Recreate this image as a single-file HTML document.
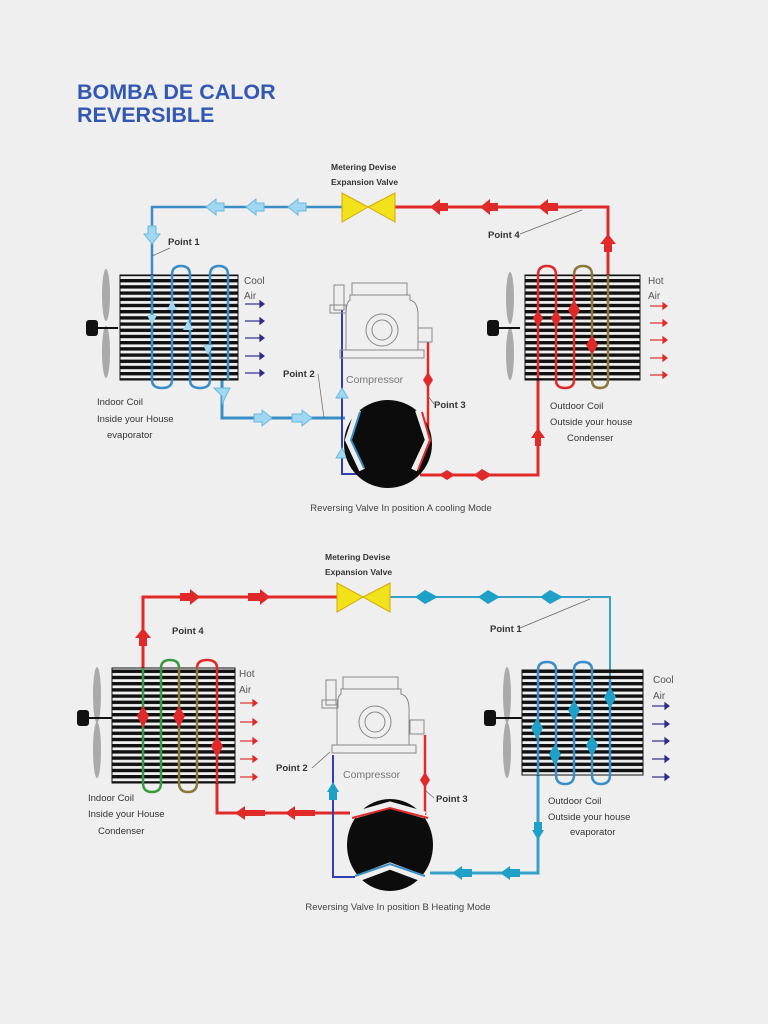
<!DOCTYPE html>
<html><head><meta charset="utf-8"><style>
html,body{margin:0;padding:0;background:#efefef;}
svg{display:block}
text{font-family:"Liberation Sans",sans-serif;}
</style></head><body>
<svg width="768" height="1024" viewBox="0 0 768 1024" xmlns="http://www.w3.org/2000/svg">
<defs>
<pattern id="fins" width="10" height="6.2" patternUnits="userSpaceOnUse">
<rect width="10" height="3.4" fill="#111"/>
</pattern>
</defs>
<rect width="768" height="1024" fill="#efefef"/>
<text x="77" y="99" font-size="21.5" font-weight="bold" fill="#3358b4">BOMBA DE CALOR</text>
<text x="77" y="122" font-size="21.5" font-weight="bold" fill="#3358b4">REVERSIBLE</text>

<!-- ================= TOP (cooling) ================= -->
<g font-size="10" fill="#333">
<text x="331" y="170" font-weight="bold" font-size="8.5">Metering Devise</text>
<text x="331" y="185" font-weight="bold" font-size="8.5">Expansion Valve</text>
</g>
<polyline points="342,207 152,207 152,380" fill="none" stroke="#3a8ec8" stroke-width="2.5"/>
<polyline points="395,207 608,207 608,275" fill="none" stroke="#e02a2a" stroke-width="3"/>
<polyline points="222,380 222,418 345,418" fill="none" stroke="#3a8ec8" stroke-width="3"/>
<polyline points="342,310 342,474 360,474" fill="none" stroke="#3040b0" stroke-width="2"/>
<polyline points="428,342 428,440" fill="none" stroke="#e02a2a" stroke-width="2.5"/>
<polyline points="420,475 538,475 538,378" fill="none" stroke="#e02a2a" stroke-width="3"/>
<polygon points="342,193 368,207 342,222" fill="#f2e21c" stroke="#d6a800"/>
<polygon points="395,193 368,207 395,222" fill="#f2e21c" stroke="#d6a800"/>
<g fill="#9fd8f0" stroke="#6ab8e0">
<polygon points="206,207 216,199 216,203 224,203 224,211 216,211 216,215"/>
<polygon points="246,207 256,199 256,203 264,203 264,211 256,211 256,215"/>
<polygon points="288,207 298,199 298,203 306,203 306,211 298,211 298,215"/>
<polygon points="152,244 144,234 148,234 148,226 156,226 156,234 160,234"/>
<polygon points="272,418 262,410 262,414 254,414 254,422 262,422 262,426"/>
<polygon points="312,418 302,410 302,414 292,414 292,422 302,422 302,426"/>
<polygon points="222,396 214,388 230,388 222,404"/>
<polygon points="342,388 336,398 348,398"/>
<polygon points="342,448 336,458 348,458"/>
</g>
<g fill="#e02a2a">
<polygon points="430,207 440,199 440,203 448,203 448,211 440,211 440,215"/>
<polygon points="480,207 490,199 490,203 498,203 498,211 490,211 490,215"/>
<polygon points="538,207 548,199 548,203 558,203 558,211 548,211 548,215"/>
<polygon points="608,234 600,244 604,244 604,252 612,252 612,244 616,244"/>
<polygon points="538,428 531,438 535,438 535,446 541,446 541,438 545,438"/>
<polygon points="428,372 423,380 428,388 433,380"/>
<polygon points="455,475 447,470 439,475 447,480"/>
<polygon points="492,475 482,469 474,475 482,481"/>
</g>
<rect x="120" y="275" width="118" height="105" fill="url(#fins)"/>
<rect x="120" y="275" width="118" height="105" fill="none" stroke="#111" stroke-width="1"/>
<g fill="none" stroke="#3a8ec8" stroke-width="2.5">
<path d="M152,275 V380 Q152,388 162,388 Q172,388 172,380 V275 Q172,266 181,266 Q190,266 190,275 V380 Q190,388 200,388 Q210,388 210,380 V275 Q210,266 219,266 Q228,266 228,275 V380"/>
</g>
<g fill="#9fd8f0"><polygon points="172,300 167,310 177,310"/><polygon points="152,325 147,315 157,315"/><polygon points="188,320 183,330 193,330"/><polygon points="208,355 203,345 213,345"/></g>
<ellipse cx="106" cy="295" rx="4" ry="26" fill="#aaa"/>
<ellipse cx="106" cy="352" rx="4" ry="26" fill="#aaa"/>
<rect x="86" y="320" width="12" height="16" rx="3" fill="#111"/>
<line x1="98" y1="328" x2="118" y2="328" stroke="#111" stroke-width="2"/>
<text x="244" y="284" font-size="10" fill="#555">Cool</text>
<text x="244" y="299" font-size="10" fill="#555">Air</text>
<g stroke="#2c2c8c" stroke-width="1.2" fill="#2c2c8c">
<line x1="245" y1="304" x2="260" y2="304"/><polygon points="260,301 264,304 260,307"/>
<line x1="245" y1="321" x2="260" y2="321"/><polygon points="260,318 264,321 260,324"/>
<line x1="245" y1="338" x2="260" y2="338"/><polygon points="260,335 264,338 260,341"/>
<line x1="245" y1="356" x2="260" y2="356"/><polygon points="260,353 264,356 260,359"/>
<line x1="245" y1="373" x2="260" y2="373"/><polygon points="260,370 264,373 260,376"/>
</g>
<rect x="525" y="275" width="115" height="105" fill="url(#fins)"/>
<rect x="525" y="275" width="115" height="105" fill="none" stroke="#111" stroke-width="1"/>
<g fill="none" stroke-width="2.5">
<path d="M538,378 V275 Q538,266 547,266 Q556,266 556,275 V380 Q556,388 565,388 Q574,388 574,380 V275" stroke="#e02a2a"/>
<path d="M574,275 Q574,266 583,266 Q592,266 592,275 V380 Q592,388 600,388 Q608,388 608,380 V275" stroke="#8a7a3a"/>
</g>
<g fill="#e02a2a"><polygon points="538,310 533,318 538,328 543,318"/><polygon points="556,310 551,318 556,328 561,318"/><polygon points="574,300 568,310 574,320 580,310"/><polygon points="592,335 586,345 592,355 598,345"/></g>
<ellipse cx="510" cy="298" rx="4" ry="26" fill="#aaa"/>
<ellipse cx="510" cy="354" rx="4" ry="26" fill="#aaa"/>
<rect x="487" y="320" width="12" height="16" rx="3" fill="#111"/>
<line x1="499" y1="328" x2="520" y2="328" stroke="#111" stroke-width="2"/>
<text x="648" y="284" font-size="10" fill="#555">Hot</text>
<text x="648" y="299" font-size="10" fill="#555">Air</text>
<g stroke="#e02a2a" stroke-width="1.2" fill="#e02a2a">
<line x1="650" y1="306" x2="663" y2="306"/><polygon points="663,303 667,306 663,309"/>
<line x1="650" y1="323" x2="663" y2="323"/><polygon points="663,320 667,323 663,326"/>
<line x1="650" y1="340" x2="663" y2="340"/><polygon points="663,337 667,340 663,343"/>
<line x1="650" y1="358" x2="663" y2="358"/><polygon points="663,355 667,358 663,361"/>
<line x1="650" y1="375" x2="663" y2="375"/><polygon points="663,372 667,375 663,378"/>
</g>
<g fill="none" stroke="#888" stroke-width="1">
<rect x="352" y="283" width="55" height="12"/>
<path d="M350,295 H410 V300 Q418,302 418,315 V350 H346 V315 Q346,302 350,300 Z"/>
<circle cx="382" cy="330" r="16"/><circle cx="382" cy="330" r="10"/>
<rect x="340" y="350" width="84" height="8"/>
<rect x="418" y="328" width="14" height="14"/>
<rect x="334" y="285" width="10" height="25"/>
<rect x="330" y="305" width="16" height="8"/>
</g>
<circle cx="388" cy="444" r="44" fill="#0c0c0c"/>
<path d="M358,410 L348,440 L362,470" fill="none" stroke="#eee" stroke-width="6"/>
<path d="M360,412 L351,440 L364,468" fill="none" stroke="#3a8ec8" stroke-width="2"/>
<path d="M418,410 L428,440 L414,470" fill="none" stroke="#eee" stroke-width="6"/>
<path d="M422,412 L430,440 L418,470" fill="none" stroke="#e02a2a" stroke-width="2"/>
<g font-size="9.5" fill="#333" font-weight="bold">
<text x="168" y="245">Point 1</text>
<text x="488" y="238">Point 4</text>
<text x="283" y="377">Point 2</text>
<text x="434" y="408">Point 3</text>
</g>
<g stroke="#666" stroke-width="0.7"><line x1="152" y1="256" x2="170" y2="248"/><line x1="520" y1="234" x2="582" y2="210"/><line x1="318" y1="374" x2="324" y2="418"/><line x1="428" y1="396" x2="434" y2="404"/></g>
<text x="346" y="383" font-size="10.5" fill="#777">Compressor</text>
<g font-size="9.5" fill="#333">
<text x="97" y="405">Indoor Coil</text>
<text x="97" y="422">Inside your House</text>
<text x="107" y="438">evaporator</text>
<text x="550" y="409">Outdoor Coil</text>
<text x="550" y="425">Outside your house</text>
<text x="567" y="441">Condenser</text>
</g>
<text x="401" y="511" font-size="9.5" fill="#444" text-anchor="middle">Reversing Valve In position A cooling Mode</text>

<!-- ================= BOTTOM (heating) ================= -->
<text x="325" y="560" font-weight="bold" font-size="8.5" fill="#333">Metering Devise</text>
<text x="325" y="575" font-weight="bold" font-size="8.5" fill="#333">Expansion Valve</text>
<polyline points="337,597 143,597 143,668" fill="none" stroke="#e02a2a" stroke-width="3"/>
<polyline points="390,597 610,597 610,680" fill="none" stroke="#3aa0c8" stroke-width="2"/>
<polyline points="217,783 217,813 350,813" fill="none" stroke="#e02a2a" stroke-width="3"/>
<polyline points="538,775 538,873 430,873" fill="none" stroke="#3aa0c8" stroke-width="3"/>
<polyline points="333,755 333,877 355,877" fill="none" stroke="#3040b0" stroke-width="2"/>
<polyline points="425,735 425,815" fill="none" stroke="#e02a2a" stroke-width="2.5"/>
<polygon points="337,583 363,597 337,612" fill="#f2e21c" stroke="#d6a800"/>
<polygon points="390,583 363,597 390,612" fill="#f2e21c" stroke="#d6a800"/>
<g fill="#e02a2a">
<polygon points="200,597 190,589 190,593 180,593 180,601 190,601 190,605"/>
<polygon points="270,597 260,589 260,593 248,593 248,601 260,601 260,605"/>
<polygon points="143,628 135,638 139,638 139,646 147,646 147,638 151,638"/>
<polygon points="235,813 245,806 245,810 265,810 265,816 245,816 245,820"/>
<polygon points="285,813 295,806 295,810 315,810 315,816 295,816 295,820"/>
<polygon points="425,772 420,780 425,788 430,780"/>
</g>
<g fill="#1fa0c8">
<polygon points="415,597 425,590 438,597 425,604"/>
<polygon points="478,597 488,590 500,597 488,604"/>
<polygon points="540,597 550,590 563,597 550,604"/>
<polygon points="538,840 532,830 544,830" />
<rect x="534" y="822" width="8" height="10"/>
<polygon points="452,873 462,866 462,880"/><rect x="462" y="869" width="10" height="8"/>
<polygon points="500,873 510,866 510,880"/><rect x="510" y="869" width="10" height="8"/>
<polygon points="333,782 327,792 339,792"/><rect x="329" y="792" width="8" height="8"/>
</g>
<rect x="112" y="668" width="123" height="115" fill="url(#fins)"/>
<rect x="112" y="668" width="123" height="115" fill="none" stroke="#111" stroke-width="1"/>
<g fill="none" stroke-width="2.5">
<path d="M143,668 V783 Q143,792 152,792 Q161,792 161,783 V668 Q161,660 170,660 Q179,660 179,668" stroke="#3a9a40"/>
<path d="M179,668 V783 Q179,792 188,792 Q197,792 197,783 V668" stroke="#8a7a3a"/>
<path d="M197,668 Q197,660 207,660 Q217,660 217,668 V783" stroke="#e02a2a"/>
</g>
<g fill="#e02a2a"><polygon points="143,706 137,716 143,728 149,716"/><polygon points="179,706 173,716 179,728 185,716"/><polygon points="217,736 211,746 217,758 223,746"/></g>
<ellipse cx="97" cy="695" rx="4" ry="28" fill="#aaa"/>
<ellipse cx="97" cy="750" rx="4" ry="28" fill="#aaa"/>
<rect x="77" y="710" width="12" height="16" rx="3" fill="#111"/>
<line x1="89" y1="718" x2="112" y2="718" stroke="#111" stroke-width="2"/>
<text x="239" y="677" font-size="10" fill="#555">Hot</text>
<text x="239" y="693" font-size="10" fill="#555">Air</text>
<g stroke="#e02a2a" stroke-width="1.2" fill="#e02a2a">
<line x1="240" y1="703" x2="253" y2="703"/><polygon points="253,700 257,703 253,706"/>
<line x1="240" y1="722" x2="253" y2="722"/><polygon points="253,719 257,722 253,725"/>
<line x1="240" y1="741" x2="253" y2="741"/><polygon points="253,738 257,741 253,744"/>
<line x1="240" y1="759" x2="253" y2="759"/><polygon points="253,756 257,759 253,762"/>
<line x1="240" y1="777" x2="253" y2="777"/><polygon points="253,774 257,777 253,780"/>
</g>
<rect x="522" y="670" width="121" height="105" fill="url(#fins)"/>
<rect x="522" y="670" width="121" height="105" fill="none" stroke="#111" stroke-width="1"/>
<g fill="none" stroke="#3a8ec8" stroke-width="2.5">
<path d="M538,775 V670 Q538,662 547,662 Q556,662 556,670 V775 Q556,784 565,784 Q574,784 574,775 V670 Q574,662 583,662 Q592,662 592,670 V775 Q592,784 601,784 Q610,784 610,775 V680"/>
</g>
<g fill="#1fa0c8"><polygon points="537,718 531,728 537,740 543,728"/><polygon points="555,744 549,754 555,766 561,754"/><polygon points="574,700 568,710 574,722 580,710"/><polygon points="592,735 586,745 592,757 598,745"/><polygon points="610,687 604,697 610,709 616,697"/></g>
<ellipse cx="507" cy="695" rx="4" ry="28" fill="#aaa"/>
<ellipse cx="507" cy="750" rx="4" ry="28" fill="#aaa"/>
<rect x="484" y="710" width="12" height="16" rx="3" fill="#111"/>
<line x1="496" y1="718" x2="522" y2="718" stroke="#111" stroke-width="2"/>
<text x="653" y="683" font-size="10" fill="#555">Cool</text>
<text x="653" y="699" font-size="10" fill="#555">Air</text>
<g stroke="#2c2c8c" stroke-width="1.2" fill="#2c2c8c">
<line x1="652" y1="706" x2="665" y2="706"/><polygon points="665,703 669,706 665,709"/>
<line x1="652" y1="724" x2="665" y2="724"/><polygon points="665,721 669,724 665,727"/>
<line x1="652" y1="741" x2="665" y2="741"/><polygon points="665,738 669,741 665,744"/>
<line x1="652" y1="759" x2="665" y2="759"/><polygon points="665,756 669,759 665,762"/>
<line x1="652" y1="777" x2="665" y2="777"/><polygon points="665,774 669,777 665,780"/>
</g>
<g fill="none" stroke="#888" stroke-width="1">
<rect x="343" y="677" width="55" height="12"/>
<path d="M341,689 H401 V694 Q409,696 409,709 V745 H337 V709 Q337,696 341,694 Z"/>
<circle cx="375" cy="722" r="16"/><circle cx="375" cy="722" r="10"/>
<rect x="332" y="745" width="84" height="8"/>
<rect x="410" y="720" width="14" height="14"/>
<rect x="326" y="680" width="10" height="25"/>
<rect x="322" y="700" width="16" height="8"/>
</g>
<ellipse cx="390" cy="845" rx="43" ry="46" fill="#0c0c0c"/>
<path d="M355,815 L390,805 L425,815" fill="none" stroke="#eee" stroke-width="7"/>
<path d="M352,818 L390,808 L428,818" fill="none" stroke="#e02a2a" stroke-width="2"/>
<path d="M358,878 L390,866 L422,878" fill="none" stroke="#eee" stroke-width="7"/>
<path d="M355,876 L390,864 L425,876" fill="none" stroke="#3a8ec8" stroke-width="2"/>
<g font-size="9.5" fill="#333" font-weight="bold">
<text x="172" y="634">Point 4</text>
<text x="490" y="632">Point 1</text>
<text x="276" y="771">Point 2</text>
<text x="436" y="802">Point 3</text>
</g>
<g stroke="#666" stroke-width="0.7"><line x1="520" y1="628" x2="590" y2="599"/><line x1="312" y1="768" x2="330" y2="752"/><line x1="425" y1="790" x2="434" y2="798"/></g>
<text x="343" y="778" font-size="10.5" fill="#777">Compressor</text>
<g font-size="9.5" fill="#333">
<text x="88" y="801">Indoor Coil</text>
<text x="88" y="817">Inside your House</text>
<text x="98" y="834">Condenser</text>
<text x="548" y="804">Outdoor Coil</text>
<text x="548" y="820">Outside your house</text>
<text x="570" y="835">evaporator</text>
</g>
<text x="398" y="910" font-size="9.5" fill="#444" text-anchor="middle">Reversing Valve In position B Heating Mode</text>
</svg>
</body></html>
